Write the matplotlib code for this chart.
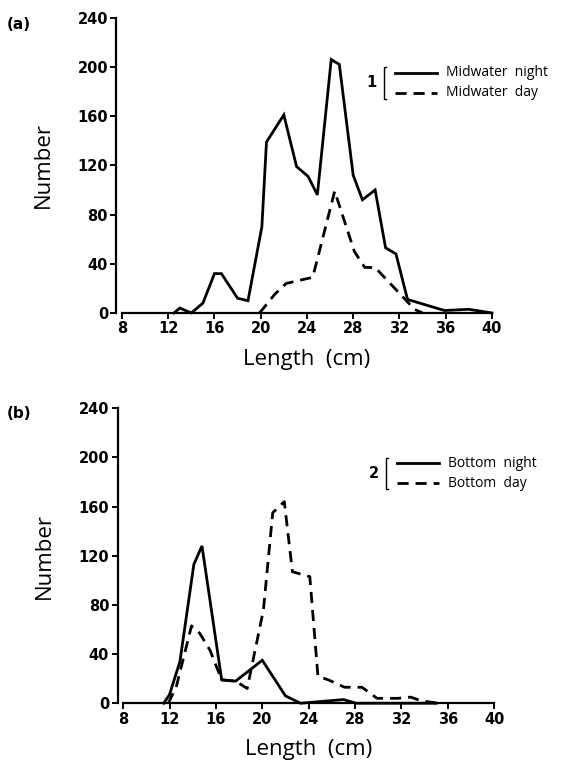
import matplotlib
matplotlib.use("Agg")
import matplotlib.pyplot as plt

# -----------------------------
# Data
# -----------------------------
mid_night_x = [12.5, 13.0, 14.0, 15.0, 16.0, 16.6, 18.0, 18.9, 20.1, 20.5, 22.0, 23.1, 24.1,
               24.9, 26.1, 26.8, 28.0, 28.8, 29.9, 30.8, 31.7, 32.7, 35.9, 38.0, 40.0]
mid_night_y = [0, 4, 0, 8, 32, 32, 12, 10, 70, 139, 161, 119, 111,
               96, 206, 202, 112, 92, 100, 53, 48, 11, 2, 3, 0]

mid_day_x = [19.9, 21.2, 22.2, 24.5, 26.4, 28.1, 29.0, 29.9, 32.3, 33.3, 34.0]
mid_day_y = [0, 15, 24, 29, 99, 50, 37, 37, 13, 3, 0]

bot_night_x = [11.5, 12.0, 12.9, 14.1, 14.8, 16.5, 17.7, 20.0, 22.0, 23.3, 27.0, 28.1, 35.0]
bot_night_y = [0, 7, 34, 113, 128, 19, 18, 35, 6, 0, 3, 0, 0]

bot_day_x = [11.9, 12.6, 13.9, 14.6, 15.5, 16.5, 17.7, 18.7, 20.1, 20.9, 21.9, 22.6, 24.1,
             24.8, 25.7, 27.1, 28.6, 29.9, 31.7, 32.8, 33.7, 35.2]
bot_day_y = [0, 14, 63, 57, 43, 19, 18, 12, 76, 155, 164, 107, 103,
             22, 19, 13, 13, 4, 4, 5, 2, 0]

x_ticks = [8, 12, 16, 20, 24, 28, 32, 36, 40]
y_ticks = [0, 40, 80, 120, 160, 200, 240]

panels = [
    ("(a)", "1", mid_night_x, mid_night_y, mid_day_x, mid_day_y, "Midwater  night", "Midwater  day"),
    ("(b)", "2", bot_night_x, bot_night_y, bot_day_x, bot_day_y, "Bottom  night", "Bottom  day"),
]

# -----------------------------
# Figure
# -----------------------------
fig = plt.figure(figsize=(5.7, 7.69), dpi=100)
fig.patch.set_facecolor("white")

axes_rects = [[0.214, 0.593, 0.649, 0.384], [0.216, 0.0855, 0.651, 0.3836]]
panel_label_y = [0.968, 0.462]

lw = 2.0
dash = (4.0, 2.5)
label_font = "Open Sans"

for i, (tag, num, nx, ny, dx, dy, lab_n, lab_d) in enumerate(panels):
    ax = fig.add_axes(axes_rects[i])

    ax.plot(nx, ny, color="black", lw=lw, solid_joinstyle="miter", clip_on=False)
    ax.plot(dx, dy, color="black", lw=lw, linestyle=(0, dash), clip_on=False)

    ax.set_xlim(8, 40)
    ax.set_ylim(0, 240)
    ax.set_xticks(x_ticks)
    ax.set_yticks(y_ticks)

    for s in ["top", "right"]:
        ax.spines[s].set_visible(False)
    ax.spines["left"].set_position(("outward", 4))
    ax.spines["left"].set_linewidth(1.6)
    ax.spines["bottom"].set_linewidth(1.6)
    ax.tick_params(direction="out", length=4, width=1.4, labelsize=10.5, pad=2)
    for t in ax.get_xticklabels() + ax.get_yticklabels():
        t.set_fontweight("bold")
        t.set_family("DejaVu Sans")

    ax.set_xlabel("Length  (cm)", fontsize=16, family=label_font, labelpad=9)
    ax.set_ylabel("Number", fontsize=16, family=label_font, labelpad=17)

    # legend drawn by hand: number, bracket, line samples
    tr = ax.transAxes
    ax.plot([0.738, 0.851], [0.814, 0.814], color="black", lw=lw, transform=tr, clip_on=False)
    ax.plot([0.738, 0.851], [0.746, 0.746], color="black", lw=lw, linestyle=(0, dash),
            transform=tr, clip_on=False)
    ax.plot([0.715, 0.708, 0.708, 0.715], [0.832, 0.832, 0.726, 0.726], color="black",
            lw=1.0, transform=tr, clip_on=False)
    ax.text(0.675, 0.78, num, transform=tr, fontsize=10.5, fontweight="bold",
            ha="center", va="center")
    ax.text(0.875, 0.814, lab_n, transform=tr, fontsize=10, family=label_font,
            va="center", ha="left")
    ax.text(0.875, 0.746, lab_d, transform=tr, fontsize=10, family=label_font,
            va="center", ha="left")

    fig.text(0.012, panel_label_y[i], tag, fontsize=11, fontweight="bold",
             ha="left", va="center")

plt.savefig("out.png", dpi=100)
